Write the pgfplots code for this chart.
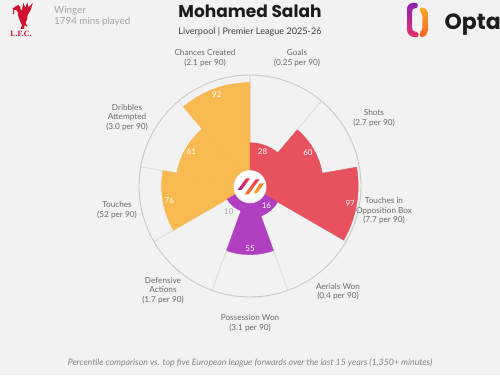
\documentclass[border=0pt]{standalone}
\usepackage{fontspec}
\setmainfont{Lato}
\newfontfamily\pop{Poppins}
\newfontfamily\lserif{Liberation Serif}
\usepackage{pgfplots}
\pgfplotsset{compat=1.18}
\usepackage{pgfplotstable}

\definecolor{bgc}{HTML}{F2F2F2}
\definecolor{cred}{HTML}{E8525F}
\definecolor{cpur}{HTML}{B040C0}
\definecolor{corg}{HTML}{F8B950}
\definecolor{gridc}{HTML}{E0E0E0}
\definecolor{dashc}{HTML}{DADADA}
\definecolor{outc}{HTML}{C8C8C8}
\definecolor{labc}{HTML}{6A6A6A}
\definecolor{titc}{HTML}{1C1C1C}
\definecolor{lfcred}{HTML}{D0102E}
\definecolor{greyc}{HTML}{A5A5A5}
\definecolor{optaA}{HTML}{8E22B4}
\definecolor{optaB}{HTML}{E8306A}
\definecolor{optaC}{HTML}{F9A825}
\definecolor{optaD}{HTML}{F26522}
\definecolor{bdgA}{HTML}{B01E8E}
\definecolor{bdgB}{HTML}{E8384F}
\definecolor{bdgC}{HTML}{F47B2A}
\definecolor{bdgD}{HTML}{F8A531}

\pgfdeclareplotmark{nothing}{}

% start angle (counter-clockwise, degrees) and percentile
\pgfplotstableread{
a1 v
50 28
10 60
-30 97
}\redtab
\pgfplotstableread{
a1 v
-70 16
-110 55
-150 10
}\purtab
\pgfplotstableread{
a1 v
170 76
130 61
90 92
}\orgtab

\pgfplotsset{
 wedge/.style={scatter, only marks, mark=nothing, point meta=explicit,
   visualization depends on={\thisrow{v} \as \val},
   visualization depends on={\thisrow{a1} \as \aone},
   scatter/@pre marker code/.code={%
     \pgfkeys{/pgf/fpu=true,/pgf/fpu/output format=fixed}%
     \pgfmathsetmacro\rr{17+0.94*\val}%
     \pgfmathsetmacro\aa{\aone}%
     \pgfkeys{/pgf/fpu=false}%
     \fill[#1] (0pt,0pt) -- (\aa:\rr pt) arc[start angle=\aa, delta angle=40, radius=\rr pt] -- cycle;},
   scatter/@post marker code/.code={}},
 vlab/.style={scatter, only marks, mark=nothing, point meta=explicit,
   visualization depends on={\thisrow{v} \as \val},
   visualization depends on={\thisrow{a1} \as \aone},
   scatter/@pre marker code/.code={%
     \pgfkeys{/pgf/fpu=true,/pgf/fpu/output format=fixed}%
     \pgfmathsetmacro\rl{17+0.94*\val-6.5}%
     \pgfmathsetmacro\am{\aone+20}%
     \pgfkeys{/pgf/fpu=false}%
     \ifdim\rl pt<24pt
       \node[font=\fontsize{8}{9}\selectfont, text=greyc, inner sep=0pt] at (\am:{\rl pt+13pt}) {\pgfmathprintnumber[assume math mode=true,fixed,precision=0]{\val}};
     \else
       \node[font=\fontsize{8}{9}\selectfont, text=white, fill=#1, rounded corners=1.5pt, inner sep=1.2pt] at (\am:\rl pt) {\pgfmathprintnumber[assume math mode=true,fixed,precision=0]{\val}};
     \fi},
   scatter/@post marker code/.code={}},
}

\begin{document}
\begin{tikzpicture}
\fill[bgc] (0,0) rectangle (500pt,375pt);
\begin{axis}[x=1pt, y=1pt, xmin=-250, xmax=250, ymin=-189, ymax=186,
  axis lines=none, clip=false, at={(0pt,0pt)}, anchor=south west]
  \addplot[wedge=corg] table[x expr=0, y expr=0, meta=v] {\orgtab};
  \addplot[wedge=cred] table[x expr=0, y expr=0, meta=v] {\redtab};
  \addplot[wedge=cpur] table[x expr=0, y expr=0, meta=v] {\purtab};
  % dashed rings at 25, 50, 75
  \draw[white!65!dashc, line width=0.8pt, dash pattern=on 3.5pt off 2.5pt] (axis cs:0,0) circle[radius=40.5pt];
  \draw[white!65!dashc, line width=0.8pt, dash pattern=on 3.5pt off 2.5pt] (axis cs:0,0) circle[radius=64pt];
  \draw[white!65!dashc, line width=0.8pt, dash pattern=on 3.5pt off 2.5pt] (axis cs:0,0) circle[radius=87.5pt];
  \pgfplotsinvokeforeach{90,50,10,-30,-70,-110,-150,170,130}{
    \draw[gridc, line width=1.1pt] (axis cs:0,0) ++(#1:16pt) -- ++(#1:95pt);
  }
  \draw[outc, line width=0.9pt] (axis cs:0,0) circle[radius=111pt];
  \addplot[vlab=corg] table[x expr=0, y expr=0, meta=v] {\orgtab};
  \addplot[vlab=cred] table[x expr=0, y expr=0, meta=v] {\redtab};
  \addplot[vlab=cpur] table[x expr=0, y expr=0, meta=v] {\purtab};
\end{axis}

\begin{scope}[x=1pt, y=-1pt, shift={(0pt,375pt)}]
  % centre badge
  \fill[black!7] (250,186.8) circle[radius=16.5pt];
  \fill[white] (250,186) circle[radius=15.5pt];
  \shade[top color=bdgB, bottom color=bdgA] (237.5,190) -- (241.5,190) -- (250,178.5) -- (246,178.5) -- cycle;
  \shade[top color=bdgB, bottom color=bdgC] (244.5,194.5) -- (248.5,194.5) -- (259.5,179.5) -- (255.5,179.5) -- cycle;
  \shade[top color=bdgC, bottom color=bdgD] (253.5,193) -- (257.5,193) -- (264,183.5) -- (260,183.5) -- cycle;
  % header
  \node[font=\pop\bfseries\fontsize{17}{19}\selectfont, text=titc, anchor=base] at (250,18) {Mohamed Salah};
  \node[font=\fontsize{9.1}{10}\selectfont, text=titc!85, anchor=base] at (250,34.5) {Liverpool | Premier League 2025-26};
  \node[font=\fontsize{9.8}{11}\selectfont, text=greyc, anchor=base west, inner sep=0pt] at (54,14) {Winger};
  \node[font=\fontsize{9.8}{11}\selectfont, text=greyc, anchor=base west, inner sep=0pt] at (54,24.5) {1794 mins played};
  % Liverpool crest (simplified liver bird)
  \fill[lfcred] (12.5,8.5) -- (16,6.2) -- (18.5,5) -- (20.2,6.8) -- (20.6,10) -- (22,10) -- (23.3,2.8) -- (25.3,7.8) -- (27.4,2.3) -- (28.5,7.5) -- (32.8,3.2) -- (30.2,11) -- (27.6,15) -- (27.2,19) -- (25.6,22.5) -- (27.4,26.8) -- (24.6,25.2) -- (24,28.8) -- (20.6,28.8) -- (22,25.2) -- (20.4,22) -- (18.4,16.5) -- (17.8,12.2) -- (16.4,10.2) -- (13,9.6) -- cycle;
  \draw[lfcred, line width=0.9pt] (13.5,9.3) .. controls (12.8,11) and (14.5,12) .. (13.6,14.2);
  \node[font=\lserif\bfseries\fontsize{8}{9}\selectfont, text=lfcred, anchor=base] at (21,37) {L.F.C.};
  % Opta logo
  \shade[top color=optaA, bottom color=optaB, rounded corners=2.2pt]
    (418,3) -- (410.5,3) -- (407,6.5) -- (407,32) -- (410.5,36.5) -- (418.5,37.5) -- (418.5,32.2) -- (413,31.2) -- (412.2,30) -- (412.2,9.5) -- (413.2,8.3) -- (417.5,8.3) -- cycle;
  \shade[top color=optaC, bottom color=optaD, rounded corners=2.2pt]
    (419.5,7.5) -- (424,7.5) -- (427.5,11) -- (427.5,33.5) -- (424,37) -- (419.8,37) -- (419.8,31.8) -- (421.8,31) -- (422.4,29.5) -- (422.4,14) -- (420.5,12.5) -- cycle;
  \node[font=\pop\bfseries\fontsize{22}{24}\selectfont, text=titc, anchor=base west, inner sep=0pt] at (444.5,29.5) {Opta};
  % category labels
  \begin{scope}[every node/.style={font=\fontsize{8.2}{9.5}\selectfont, text=labc, align=center, inner sep=0pt}]
    \node at (205,58) {Chances Created\\(2.1 per 90)};
    \node at (297,58) {Goals\\(0.25 per 90)};
    \node at (374,118) {Shots\\(2.7 per 90)};
    \node at (384,211) {Touches in\\Opposition Box\\(7.7 per 90)};
    \node at (338,291.5) {Aerials Won\\(0.4 per 90)};
    \node at (250,323) {Possession Won\\(3.1 per 90)};
    \node at (163,290.5) {Defensive\\Actions\\(1.7 per 90)};
    \node at (117,210) {Touches\\(52 per 90)};
    \node at (127,117.5) {Dribbles\\Attempted\\(3.0 per 90)};
  \end{scope}
  \node[font=\itshape\fontsize{8.8}{10}\selectfont, text=black!48] at (250,363) {Percentile comparison vs. top five European league forwards over the last 15 years (1,350+ minutes)};
\end{scope}
\pgfresetboundingbox
\path[use as bounding box] (0,0) rectangle (500pt,375pt);
\end{tikzpicture}
\end{document}
